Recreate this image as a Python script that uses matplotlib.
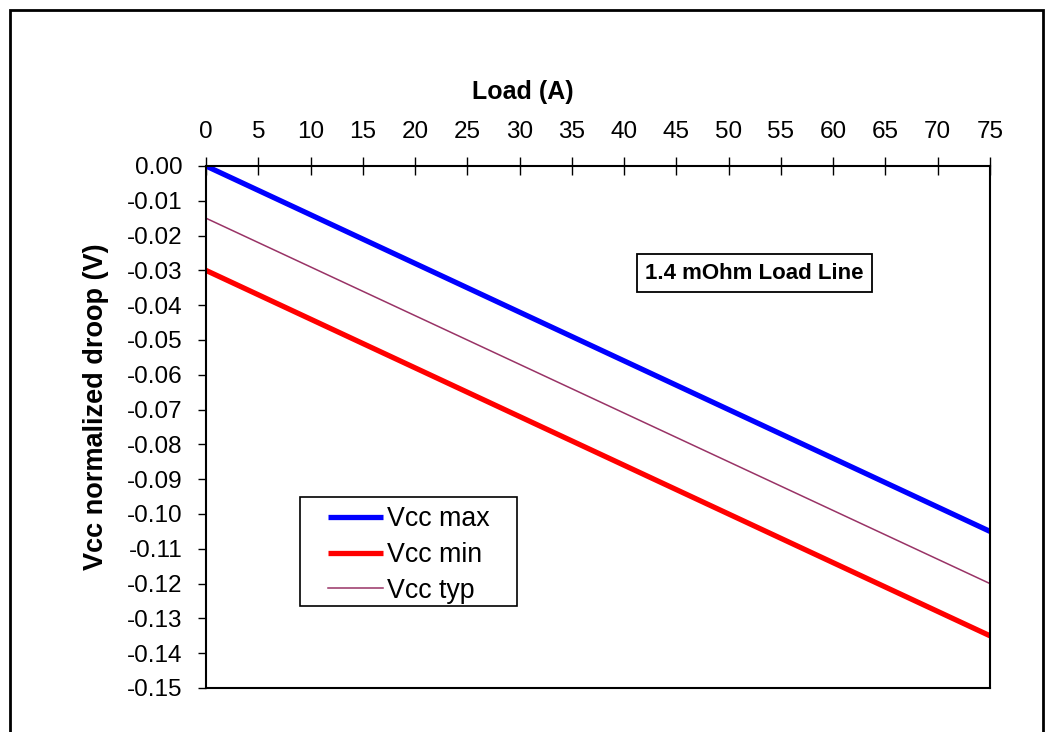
import matplotlib.pyplot as plt
from matplotlib.patches import Rectangle

plt.rcParams['font.family'] = ['Liberation Sans', 'DejaVu Sans']

load = [0, 5, 10, 15, 20, 25, 30, 35, 40, 45, 50, 55, 60, 65, 70, 75]
vcc_max = [0.000, -0.007, -0.014, -0.021, -0.028, -0.035, -0.042, -0.049,
           -0.056, -0.063, -0.070, -0.077, -0.084, -0.091, -0.098, -0.105]
vcc_min = [-0.030, -0.037, -0.044, -0.051, -0.058, -0.065, -0.072, -0.079,
           -0.086, -0.093, -0.100, -0.107, -0.114, -0.121, -0.128, -0.135]
vcc_typ = [-0.015, -0.022, -0.029, -0.036, -0.043, -0.050, -0.057, -0.064,
           -0.071, -0.078, -0.085, -0.092, -0.099, -0.106, -0.113, -0.120]
yticks = [0.00, -0.01, -0.02, -0.03, -0.04, -0.05, -0.06, -0.07,
          -0.08, -0.09, -0.10, -0.11, -0.12, -0.13, -0.14, -0.15]

fig = plt.figure(figsize=(10.52, 7.32), dpi=100)
ax = fig.add_axes([206 / 1052, 1 - 688 / 732, 784 / 1052, 522 / 732])

ax.plot(load, vcc_max, color='#0000ff', lw=3.8, label='Vcc max', solid_capstyle='butt')
ax.plot(load, vcc_min, color='#ff0000', lw=3.8, label='Vcc min', solid_capstyle='butt')
ax.plot(load, vcc_typ, color='#993366', lw=1.1, label='Vcc typ')

ax.set_xlim(0, 75)
ax.set_ylim(-0.15, 0.0)
ax.set_xticks(load)
ax.set_yticks(yticks)
ax.set_yticklabels([f'{v:.2f}' if v != 0 else '0.00' for v in yticks])
ax.xaxis.tick_top()
ax.xaxis.set_label_position('top')
ax.tick_params(axis='x', direction='inout', length=13, width=1, pad=10, labelsize=17.5)
ax.tick_params(axis='y', direction='out', length=6, width=1, pad=11, labelsize=17.5)
for s in ax.spines.values():
    s.set_linewidth(1.5)

ax.set_xlabel('Load (A)', fontsize=18, fontweight='bold')
ax.xaxis.set_label_coords(0.4043, 1.129)
ax.set_ylabel('Vcc normalized droop (V)', fontsize=19.5, fontweight='bold')
ax.yaxis.set_label_coords(-0.124, 0.538)

# legend box drawn separately so its padding matches the original
ax.add_patch(Rectangle((0.1199, 0.1571), 0.2768, 0.2088, transform=ax.transAxes,
                       fc='white', ec='black', lw=1.2, zorder=4))
leg = ax.legend(loc='center left', bbox_to_anchor=(0.1556, 0.2548), fontsize=19.3,
                frameon=False, handlelength=2.05, handletextpad=0.15,
                borderpad=0, labelspacing=0.36, borderaxespad=0)
leg.set_zorder(5)

ax.text(0.6996, 0.795, '1.4 mOhm Load Line', transform=ax.transAxes, ha='center',
        va='center', fontsize=16, fontweight='bold',
        bbox=dict(boxstyle='square,pad=0.37', fc='white', ec='black', lw=1.3))

fig.patches.append(Rectangle((10 / 1052, -0.05), 1033 / 1052, 1 - 10 / 732 + 0.05,
                             transform=fig.transFigure, fill=False, ec='black',
                             lw=2, clip_on=False))

fig.savefig('out.png', dpi=100)
